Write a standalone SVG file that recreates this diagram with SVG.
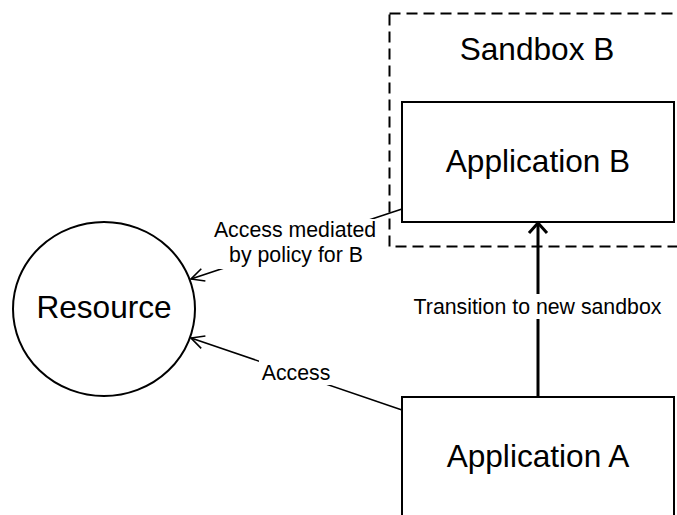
<svg xmlns="http://www.w3.org/2000/svg" width="677" height="515" viewBox="0 0 677 515">
  <style>
    .box { fill: #ffffff; stroke: #000000; stroke-width: 2; }
    .sandbox { fill: none; stroke: #000000; stroke-width: 2; stroke-dasharray: 11 6; }
    .big { font-family: "Liberation Sans", Arial, sans-serif; font-size: 31.6px; fill: #000000; text-anchor: middle; }
    .label { font-family: "Liberation Sans", Arial, sans-serif; font-size: 21.3px; fill: #000000; text-anchor: middle; }
    .edge { fill: none; stroke: #000000; stroke-width: 1.6; }
    .edge-bold { fill: none; stroke: #000000; stroke-width: 3; }
    .mask { fill: #ffffff; stroke: none; }
  </style>
  <defs>
    <marker id="open" markerWidth="16" markerHeight="16" refX="14" refY="8" orient="auto" markerUnits="userSpaceOnUse">
      <path d="M1,1.5 L14,8 L1,14.5" fill="none" stroke="#000000" stroke-width="1.6"/>
    </marker>
    <marker id="open-bold" markerWidth="24" markerHeight="24" refX="12" refY="12" orient="auto" markerUnits="userSpaceOnUse">
      <path d="M2,3 L12,12 L2,21" fill="none" stroke="#000000" stroke-width="3"/>
    </marker>
  </defs>
  <rect width="677" height="515" fill="#ffffff"/>

  <g id="sandbox-b">
    <rect class="sandbox" x="389.5" y="13.5" width="300" height="233"/>
    <text class="big" x="537" y="60">Sandbox B</text>
  </g>

  <g id="application-b">
    <rect class="box" x="402" y="102" width="272" height="120"/>
    <text class="big" x="538" y="172">Application B</text>
  </g>

  <g id="application-a">
    <rect class="box" x="402" y="397" width="272" height="130"/>
    <text class="big" x="538" y="467">Application A</text>
  </g>

  <g id="resource">
    <ellipse class="box" cx="104" cy="309" rx="91" ry="87" stroke-width="1.6"/>
    <text class="big" x="104" y="318">Resource</text>
  </g>

  <g id="connectors">
    <!-- Application B to Resource, mediated by policy -->
    <line class="edge" x1="402" y1="209" x2="191" y2="279" marker-end="url(#open)"/>
    <!-- Application A to Resource -->
    <line class="edge" x1="402" y1="410" x2="191" y2="338" marker-end="url(#open)"/>
    <!-- Application A to Application B -->
    <line class="edge-bold" x1="538" y1="397" x2="538" y2="223" marker-end="url(#open-bold)"/>

    <g id="edge-labels">
      <rect class="mask" x="212" y="219" width="166" height="50"/>
      <text class="label" x="295" y="237">Access mediated</text>
      <text class="label" x="296" y="262">by policy for B</text>

      <rect class="mask" x="259" y="360" width="73" height="25"/>
      <text class="label" x="296" y="380">Access</text>

      <rect class="mask" x="410" y="294" width="255" height="25"/>
      <text class="label" x="537.5" y="314">Transition to new sandbox</text>
    </g>
  </g>
</svg>
